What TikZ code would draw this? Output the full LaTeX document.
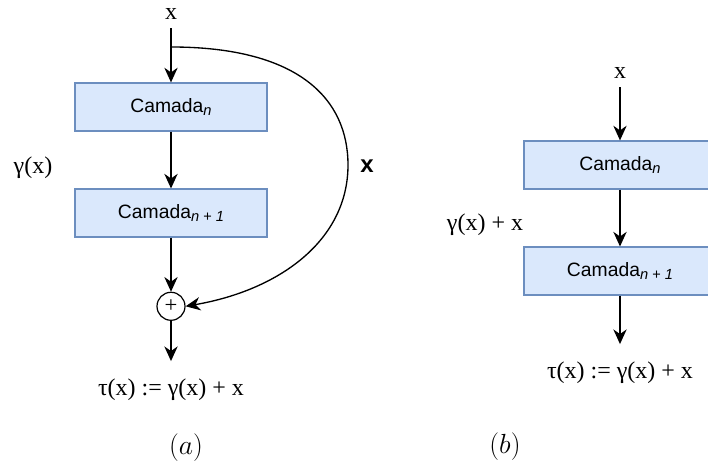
\documentclass[tikz,border=0pt]{standalone}
\usepackage{fontspec}
\setmainfont{Liberation Serif}
\newfontfamily\boxfont{Liberation Sans}
\usetikzlibrary{arrows.meta, positioning}
\definecolor{layerfill}{HTML}{DAE8FC}
\definecolor{layerdraw}{HTML}{6C8EBF}
\newcommand{\layersub}[1]{\raisebox{-0.35ex}{\fontsize{11}{11}\selectfont\itshape #1}}

\begin{document}
\begin{tikzpicture}[
    x=0.75pt, y=0.75pt,
    node distance=1.5cm,
    box/.style={rectangle, draw=layerdraw, fill=layerfill, line width=0.9pt, minimum width=144pt, minimum height=36pt, font=\boxfont\fontsize{14.5}{16}\selectfont},
    lbl/.style={font=\fontsize{18}{21}\selectfont},
    subcap/.style={font=\fontsize{22}{26}\selectfont},
    sum/.style={circle, draw, line width=0.9pt, minimum size=21pt, inner sep=0pt, font=\fontsize{17}{17}\selectfont},
    arrow/.style={-{Stealth[length=11pt, width=10pt, inset=3.5pt]}, line width=1pt}
  ]
    \clip (0,0) rectangle (708,466);
    % (a) with the skip connection
    \node[lbl] (xa) at (171,452) {x};
    \node[box] (camA1) at (171,359) {Camada\layersub{n}};
    \node[box, below=of camA1] (camA2) {Camada\layersub{n + 1}};
    \node[sum, below=40.5pt of camA2] (plusA) {+};
    \node[lbl] (tauA) at (171,76) {τ(x) := γ(x) + x};
    \node[lbl] (gammaA) at (33,298) {γ(x)};
    \node[font=\boxfont\bfseries\fontsize{18}{20}\selectfont] (skiplbl) at (367,300) {x};
    \node[subcap] (capA) at (186,18) {$(a)$};
    \coordinate (skipA) at (171,419);
    \draw[arrow, shorten <=3pt] (xa) -- (camA1);
    \draw[arrow] (camA1) -- (camA2);
    \draw[arrow] (camA2) -- (plusA);
    \draw[arrow, shorten >=10pt] (plusA) -- (tauA);
    \draw[arrow] (skipA) .. controls (300,419) and (348,366) .. (348,301)
      .. controls (348,226) and (280,176) .. (plusA.east);
    % (b) without it
    \node[lbl] (xb) at (620,393) {x};
    \node[box] (camB1) at (620,301) {Camada\layersub{n}};
    \node[box, below=of camB1] (camB2) {Camada\layersub{n + 1}};
    \node[lbl] (tauB) at (620,93) {τ(x) := γ(x) + x};
    \node[lbl] (gammaB) at (485,241) {γ(x) + x};
    \node[subcap] (capB) at (505,19) {$(b)$};
    \draw[arrow, shorten <=3pt] (xb) -- (camB1);
    \draw[arrow] (camB1) -- (camB2);
    \draw[arrow, shorten >=10pt] (camB2) -- (tauB);
\end{tikzpicture}
\end{document}
